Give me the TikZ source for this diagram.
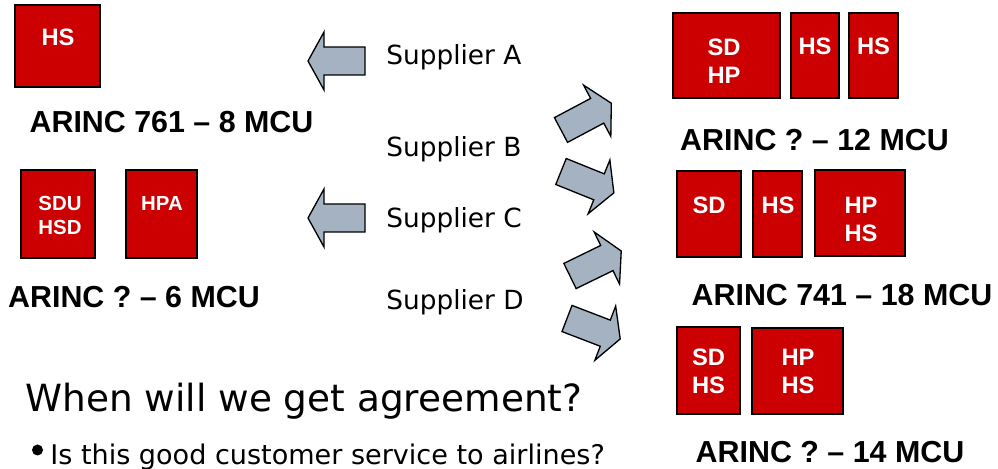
\documentclass[tikz,border=0pt]{standalone}
\usepackage{fontspec}
\setmainfont{DejaVu Sans}
\newfontfamily\arialfont{Liberation Sans}
\definecolor{boxred}{RGB}{204,0,0}
\definecolor{arrowgray}{RGB}{164,178,194}
\tikzset{
	unitbox/.style={draw=black, fill=boxred, line width=0.8pt},
	unittext/.style={text=white, font=\arialfont\bfseries\fontsize{13.5}{16}\selectfont, align=center, inner sep=0pt},
	smallunit/.style={unittext, font=\arialfont\bfseries\fontsize{11.6}{14.2}\selectfont},
	formfactor/.style={font=\arialfont\bfseries\fontsize{17.3}{20}\selectfont, inner sep=0pt},
	supplier/.style={font=\fontsize{15}{18}\selectfont, anchor=west, inner sep=0pt},
	arrowbody/.style={draw=black, fill=arrowgray, line width=0.75pt, line join=miter},
	supplyarrow/.pic={\draw[arrowbody] (0,-14) -- (41,-14) -- (41,-29) -- (57,0) -- (41,29) -- (41,14) -- (0,14) -- cycle;}
}
\begin{document}
\begin{tikzpicture}[x=0.02cm, y=0.02cm]
	\useasboundingbox (0,0) rectangle (998,-469);
	\draw[unitbox] (15,-5) rectangle (100,-87);
	\node[unittext] (hsA) at (58,-37) {HS};
	\node[formfactor] (arinc761) at (171.5,-122) {ARINC 761 – 8 MCU};
	\draw[unitbox] (21,-170) rectangle (95,-258);
	\draw[unitbox] (126,-170) rectangle (197,-258);
	\node[smallunit] (sduC) at (60,-215.5) {SDU\\HSD};
	\node[smallunit] (hpaC) at (162,-203) {HPA};
	\node[formfactor] (arincC) at (134,-297) {ARINC ? – 6 MCU};
	\draw[unitbox] (673,-13) rectangle (780,-98);
	\draw[unitbox] (791,-13) rectangle (839,-98);
	\draw[unitbox] (849,-13) rectangle (898,-98);
	\node[unittext] (sdB) at (724,-61) {SD\\HP};
	\node[unittext] (hsB1) at (815,-46) {HS};
	\node[unittext] (hsB2) at (873.5,-46) {HS};
	\node[formfactor] (arincB) at (814.5,-140) {ARINC ? – 12 MCU};
	\draw[unitbox] (677,-171) rectangle (741,-257);
	\draw[unitbox] (753,-171) rectangle (802,-257);
	\draw[unitbox] (815,-170) rectangle (905,-256);
	\node[unittext] (sd741) at (709,-205) {SD};
	\node[unittext] (hs741) at (778,-205) {HS};
	\node[unittext] (hp741) at (861,-219.5) {HP\\HS};
	\node[formfactor] (arinc741) at (842,-295) {ARINC 741 – 18 MCU};
	\draw[unitbox] (677,-327) rectangle (740,-414);
	\draw[unitbox] (752,-328) rectangle (843,-414);
	\node[unittext] (sdD) at (708.5,-371) {SD\\HS};
	\node[unittext] (hpD) at (798,-371.5) {HP\\HS};
	\node[formfactor] (arincD) at (830,-452) {ARINC ? – 14 MCU};
	\node[supplier] (supA) at (386,-57) {Supplier A};
	\node[supplier] (supB) at (386,-149) {Supplier B};
	\node[supplier] (supC) at (386,-220) {Supplier C};
	\node[supplier] (supD) at (386,-302) {Supplier D};
	\pic[rotate=180] at (365,-61) {supplyarrow};
	\pic[rotate=180] at (365,-218) {supplyarrow};
	\pic[rotate=28] at (561,-130) {supplyarrow};
	\pic[rotate=-22] at (561,-171.5) {supplyarrow};
	\pic[rotate=26] at (570,-276) {supplyarrow};
	\pic[rotate=-21] at (567,-318.5) {supplyarrow};
	\node[anchor=base west, inner sep=0pt, font=\fontsize{21.3}{25}\selectfont] (question) at (25,-412) {When will we get agreement?};
	\fill (37.5,-450) circle (5.5);
	\node[anchor=base west, inner sep=0pt, font=\fontsize{15.4}{18}\selectfont] (service) at (50,-465) {Is this good customer service to airlines?};
\end{tikzpicture}
\end{document}
